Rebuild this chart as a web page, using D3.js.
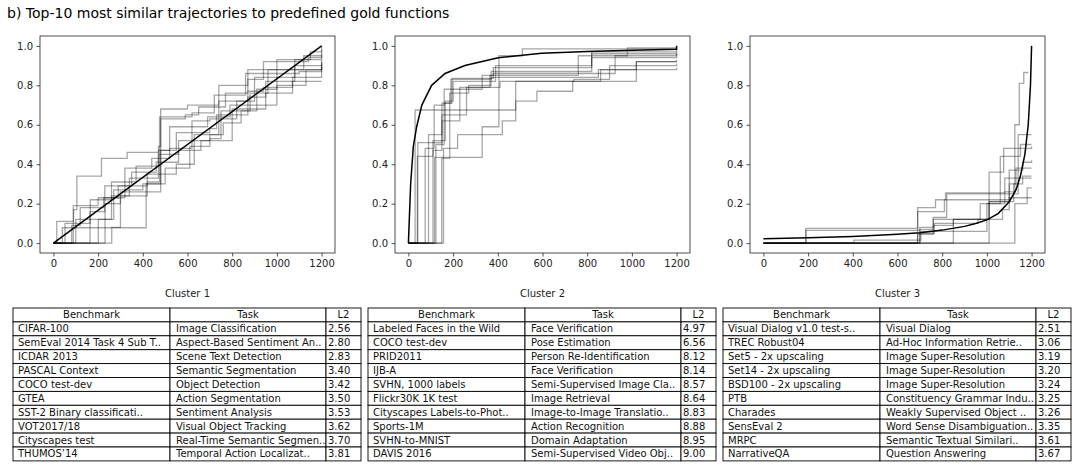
<!DOCTYPE html>
<html>
<head>
<meta charset="utf-8">
<script src="https://cdn.jsdelivr.net/npm/d3@7"></script>
<style>
  body { margin: 0; background: #fff; }
  svg { display: block; font-family: "DejaVu Sans", sans-serif; }
</style>
</head>
<body>
<div id="chart"></div>
<script>
// tick labels
const xTicks = [0, 200, 400, 600, 800, 1000, 1200];
const yTicks = [0.0, 0.2, 0.4, 0.6, 0.8, 1.0];
const clusterNames = ['Cluster 1', 'Cluster 2', 'Cluster 3'];

// gold functions, points
const gold1 = [[0, 0], [1200, 1.0]];
const gold2 = [[0, 0], [10, 0.3], [22, 0.49], [37, 0.59], [60, 0.7], [104, 0.8], [164, 0.86], [253, 0.9],
  [402, 0.94], [596, 0.963], [800, 0.972], [1000, 0.978], [1200, 0.983], [1200, 1.0]];
const gold3 = [[0, 0.022], [200, 0.027], [400, 0.034], [600, 0.045], [700, 0.053], [800, 0.066], [900, 0.085],
  [950, 0.1], [1000, 0.118], [1050, 0.15], [1100, 0.21], [1130, 0.27], [1150, 0.34], [1170, 0.45],
  [1185, 0.6], [1195, 0.8], [1200, 1.0]];

// top-10 trajectories per cluster (step-after breakpoints)
const cluster1Trajectories = [
  [[0, 0], [15, 0.11], [90, 0.17], [105, 0.34], [215, 0.43], [330, 0.46], [470, 0.49], [480, 0.68], [600, 0.70], [740, 0.80], [870, 0.88], [1000, 0.93], [1150, 0.97], [1200, 1.0]],
  [[0, 0], [40, 0.078], [415, 0.30], [480, 0.47], [550, 0.56], [700, 0.58], [730, 0.65], [870, 0.74], [950, 0.82], [1080, 0.90], [1200, 0.93]],
  [[0, 0], [82, 0.09], [120, 0.18], [225, 0.23], [290, 0.29], [420, 0.31], [475, 0.64], [620, 0.66], [720, 0.75], [860, 0.86], [1000, 0.88], [1200, 0.90]],
  [[0, 0], [52, 0.10], [165, 0.22], [260, 0.31], [370, 0.39], [470, 0.45], [560, 0.52], [700, 0.55], [740, 0.72], [870, 0.77], [940, 0.79], [1070, 0.82], [1200, 0.82]],
  [[0, 0], [89, 0.19], [200, 0.23], [320, 0.38], [440, 0.43], [520, 0.48], [620, 0.62], [700, 0.63], [820, 0.72], [900, 0.84], [1080, 0.93], [1200, 0.95]],
  [[0, 0], [164, 0.16], [230, 0.29], [350, 0.36], [460, 0.41], [560, 0.47], [660, 0.52], [800, 0.68], [950, 0.76], [1070, 0.84], [1200, 0.91]],
  [[0, 0], [201, 0.12], [270, 0.27], [400, 0.30], [500, 0.38], [610, 0.49], [700, 0.53], [750, 0.67], [880, 0.70], [1000, 0.80], [1130, 0.88], [1200, 0.89]],
  [[0, 0], [231, 0.20], [300, 0.26], [480, 0.63], [590, 0.65], [650, 0.69], [770, 0.76], [870, 0.83], [940, 0.92], [1140, 0.94], [1200, 0.98]],
  [[0, 0], [261, 0.08], [300, 0.24], [420, 0.35], [550, 0.40], [630, 0.55], [760, 0.61], [840, 0.67], [910, 0.78], [1000, 0.86], [1100, 0.87], [1200, 0.92]],
  [[0, 0], [100, 0.12], [260, 0.24], [340, 0.33], [470, 0.47], [520, 0.59], [690, 0.64], [790, 0.70], [880, 0.76], [960, 0.88], [1120, 0.95], [1200, 0.96]]
];
const cluster2Trajectories = [
  [[0, 0], [30, 0.675], [405, 0.95], [510, 0.985], [1200, 0.985]],
  [[0, 0], [42, 0.51], [150, 0.71], [190, 0.83], [370, 0.87], [820, 0.94], [1200, 0.96]],
  [[0, 0], [75, 0.48], [115, 0.70], [160, 0.78], [330, 0.85], [380, 0.89], [820, 0.96], [1200, 0.97]],
  [[0, 0], [90, 0.55], [150, 0.62], [230, 0.79], [410, 0.82], [860, 0.88], [1020, 0.92], [1200, 0.93]],
  [[0, 0], [117, 0.435], [330, 0.59], [405, 0.675], [480, 0.82], [740, 0.83], [900, 0.90], [1200, 0.91]],
  [[0, 0], [123, 0.50], [160, 0.71], [195, 0.835], [380, 0.86], [925, 0.95], [1200, 0.96]],
  [[0, 0], [149, 0.43], [185, 0.76], [270, 0.80], [370, 0.84], [850, 0.88], [1200, 0.89]],
  [[0, 0], [157, 0.48], [220, 0.55], [420, 0.62], [480, 0.72], [575, 0.77], [735, 0.82], [1020, 0.92], [1200, 0.92]],
  [[0, 0], [40, 0.44], [110, 0.52], [165, 0.72], [200, 0.82], [390, 0.90], [820, 0.97], [1200, 0.98]],
  [[0, 0], [110, 0.47], [150, 0.65], [260, 0.79], [365, 0.85], [760, 0.95], [980, 0.99], [1200, 0.99]]
];
const cluster3Trajectories = [
  [[0, 0], [190, 0.075], [690, 0.18], [770, 0.22], [815, 0.255], [1080, 0.26], [1125, 0.60], [1145, 0.81], [1165, 0.865], [1185, 0.865]],
  [[0, 0], [190, 0.065], [700, 0.08], [760, 0.13], [820, 0.25], [1100, 0.25], [1140, 0.55], [1200, 0.55]],
  [[0, 0], [405, 0.015], [705, 0.05], [765, 0.10], [960, 0.12], [1010, 0.36], [1075, 0.48], [1200, 0.49]],
  [[0, 0], [690, 0.045], [760, 0.09], [850, 0.12], [1010, 0.21], [1100, 0.23], [1200, 0.23]],
  [[0, 0], [1010, 0.21], [1120, 0.30], [1160, 0.34], [1200, 0.34]],
  [[0, 0], [1125, 0.20], [1180, 0.28], [1200, 0.28]],
  [[0, 0], [700, 0.07], [760, 0.12], [970, 0.20], [1060, 0.44], [1120, 0.44], [1150, 0.50], [1200, 0.50]],
  [[0, 0], [690, 0.16], [810, 0.22], [1060, 0.22], [1100, 0.37], [1160, 0.41], [1200, 0.42]],
  [[0, 0], [850, 0.12], [1070, 0.17], [1100, 0.30], [1130, 0.38], [1200, 0.38]],
  [[0, 0], [700, 0.06], [1000, 0.20], [1080, 0.33], [1200, 0.33]]
];

// tables
const tableHeader = ['Benchmark', 'Task', 'L2'];
const table1Benchmarks = ['CIFAR-100', 'SemEval 2014 Task 4 Sub T..', 'ICDAR 2013', 'PASCAL Context', 'COCO test-dev',
  'GTEA', 'SST-2 Binary classificati..', 'VOT2017/18', 'Cityscapes test', 'THUMOS’14'];
const table1Tasks = ['Image Classification', 'Aspect-Based Sentiment An..', 'Scene Text Detection', 'Semantic Segmentation',
  'Object Detection', 'Action Segmentation', 'Sentiment Analysis', 'Visual Object Tracking', 'Real-Time Semantic Segmen..',
  'Temporal Action Localizat..'];
const table1L2 = ['2.56', '2.80', '2.83', '3.40', '3.42', '3.50', '3.53', '3.62', '3.70', '3.81'];

const table2Benchmarks = ['Labeled Faces in the Wild', 'COCO test-dev', 'PRID2011', 'IJB-A', 'SVHN, 1000 labels',
  'Flickr30K 1K test', 'Cityscapes Labels-to-Phot..', 'Sports-1M', 'SVHN-to-MNIST', 'DAVIS 2016'];
const table2Tasks = ['Face Verification', 'Pose Estimation', 'Person Re-Identification', 'Face Verification',
  'Semi-Supervised Image Cla..', 'Image Retrieval', 'Image-to-Image Translatio..', 'Action Recognition',
  'Domain Adaptation', 'Semi-Supervised Video Obj..'];
const table2L2 = ['4.97', '6.56', '8.12', '8.14', '8.57', '8.64', '8.83', '8.88', '8.95', '9.00'];

const table3Benchmarks = ['Visual Dialog v1.0 test-s..', 'TREC Robust04', 'Set5 - 2x upscaling', 'Set14 - 2x upscaling',
  'BSD100 - 2x upscaling', 'PTB', 'Charades', 'SensEval 2', 'MRPC', 'NarrativeQA'];
const table3Tasks = ['Visual Dialog', 'Ad-Hoc Information Retrie..', 'Image Super-Resolution', 'Image Super-Resolution',
  'Image Super-Resolution', 'Constituency Grammar Indu..', 'Weakly Supervised Object ..', 'Word Sense Disambiguation..',
  'Semantic Textual Similari..', 'Question Answering'];
const table3L2 = ['2.51', '3.06', '3.19', '3.20', '3.24', '3.25', '3.26', '3.35', '3.61', '3.67'];

const W = 1077, H = 467;
const svg = d3.select('#chart').append('svg').attr('width', W).attr('height', H);

svg.append('text')
  .attr('x', 7).attr('y', 18)
  .attr('font-size', 14).attr('fill', '#000')
  .text('b) Top-10 most similar trajectories to predefined gold functions');

const panelLefts = [40, 395, 750];
const axW = 295, axTop = 36, axH = 217;

function drawPanel(left, trajectories, gold, name) {
  const x = d3.scaleLinear().domain([-60, 1260]).range([left, left + axW]);
  const y = d3.scaleLinear().domain([-0.05, 1.05]).range([axTop + axH, axTop]);
  const g = svg.append('g');

  const step = d3.line().x(d => x(d[0])).y(d => y(d[1])).curve(d3.curveStepAfter);
  g.selectAll('path.traj').data(trajectories).enter().append('path')
    .attr('class', 'traj')
    .attr('fill', 'none')
    .attr('stroke', '#000')
    .attr('stroke-opacity', 0.35)
    .attr('stroke-width', 1.3)
    .attr('d', step);

  const goldLine = d3.line().x(d => x(d[0])).y(d => y(d[1]));
  g.append('path').datum(gold)
    .attr('fill', 'none').attr('stroke', '#000').attr('stroke-width', 1.5)
    .attr('d', goldLine);

  const xAxis = g.append('g')
    .attr('transform', `translate(0,${axTop + axH})`)
    .call(d3.axisBottom(x).tickValues(xTicks).tickSize(3.5).tickPadding(3.5).tickFormat(d3.format('d')));
  const yAxis = g.append('g')
    .attr('transform', `translate(${left},0)`)
    .call(d3.axisLeft(y).tickValues(yTicks).tickSize(3.5).tickPadding(3.5).tickFormat(d3.format('.1f')));
  [xAxis, yAxis].forEach(a => {
    a.select('.domain').remove();
    a.selectAll('text').attr('font-size', 10).attr('font-family', 'DejaVu Sans').attr('fill', '#222');
    a.selectAll('line').attr('stroke', '#222').attr('stroke-width', 0.8);
  });

  g.append('rect')
    .attr('x', left).attr('y', axTop).attr('width', axW).attr('height', axH)
    .attr('fill', 'none').attr('stroke', '#222').attr('stroke-width', 0.8);

  g.append('text')
    .attr('x', left + axW / 2).attr('y', 297)
    .attr('text-anchor', 'middle').attr('font-size', 10).attr('fill', '#222')
    .text(name);
}

drawPanel(panelLefts[0], cluster1Trajectories, gold1, clusterNames[0]);
drawPanel(panelLefts[1], cluster2Trajectories, gold2, clusterNames[1]);
drawPanel(panelLefts[2], cluster3Trajectories, gold3, clusterNames[2]);

// tables
const tableLefts = [13, 368, 723];
const colW = [157, 156, 35];
const rowH = 13.9, tableTop = 308;

function drawTable(left, benchmarks, tasks, l2) {
  const g = svg.append('g');
  const rows = benchmarks.map((b, i) => [b, tasks[i], l2[i]]);
  const colX = [left, left + colW[0], left + colW[0] + colW[1]];
  const pads = [5, 6, 2];

  const all = [tableHeader].concat(rows);
  all.forEach((row, r) => {
    const ry = tableTop + r * rowH;
    row.forEach((val, c) => {
      g.append('rect')
        .attr('x', colX[c]).attr('y', ry).attr('width', colW[c]).attr('height', rowH)
        .attr('fill', '#fff').attr('stroke', '#000').attr('stroke-width', 0.9);
      const t = g.append('text')
        .attr('y', ry + rowH / 2)
        .attr('dy', '0.35em')
        .attr('font-size', 10).attr('fill', '#111')
        .text(val);
      if (r === 0) {
        t.attr('x', colX[c] + colW[c] / 2).attr('text-anchor', 'middle');
      } else {
        t.attr('x', colX[c] + pads[c]);
      }
    });
  });
}

drawTable(tableLefts[0], table1Benchmarks, table1Tasks, table1L2);
drawTable(tableLefts[1], table2Benchmarks, table2Tasks, table2L2);
drawTable(tableLefts[2], table3Benchmarks, table3Tasks, table3L2);
</script>
</body>
</html>
